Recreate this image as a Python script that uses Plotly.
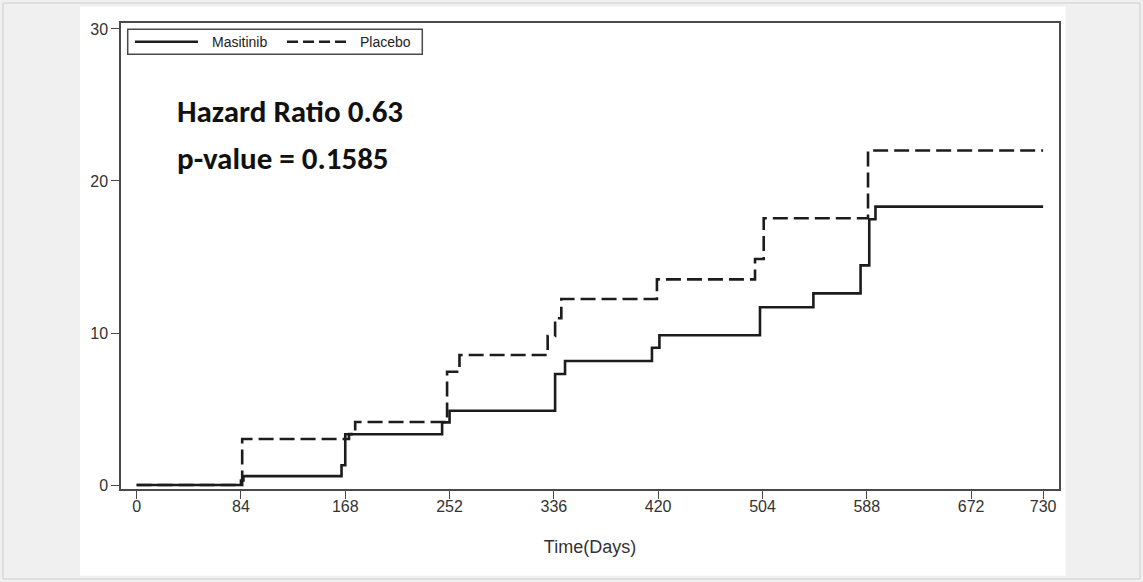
import plotly.graph_objects as go

# ---- data ----
masitinib_days = [0, 84, 86, 165, 168, 246, 252, 337, 345, 415, 421, 502, 545, 583, 590, 595, 730]
masitinib_pct = [0, 0.3, 0.59, 1.3, 3.34, 4.12, 4.89, 7.3, 8.16, 9.03, 9.85, 11.69, 12.61, 14.45, 17.48, 18.31, 18.31]
placebo_days = [0, 85, 171, 176, 250, 260, 331, 337, 342, 419, 498, 505, 589, 730]
placebo_pct = [0, 3.03, 3.35, 4.15, 7.45, 8.55, 9.8, 10.97, 12.24, 13.53, 14.87, 17.55, 22.0, 22.0]
x_ticks = [0, 84, 168, 252, 336, 420, 504, 588, 672, 730]
y_ticks = [0, 10, 20, 30]
series_names = ["Masitinib", "Placebo"]
stat_lines = ["Hazard Ratio 0.63", "p-value = 0.1585"]
x_title = "Time(Days)"

W, H = 1143, 582
L, R, T, B = 121, 1059, 23, 489
PW, PH = R - L, B - T


def px(x):
    return (x - L) / PW


def py(y):
    return (B - y) / PH


LINE = "#1c1c1c"
AXIS = "#4a4a4a"

fig = go.Figure()
fig.add_trace(go.Scatter(x=masitinib_days, y=masitinib_pct, mode="lines", line_shape="hv",
                         name=series_names[0], showlegend=False,
                         line=dict(color=LINE, width=2.6)))
fig.add_trace(go.Scatter(x=placebo_days, y=placebo_pct, mode="lines", line_shape="hv",
                         name=series_names[1], showlegend=False,
                         line=dict(color=LINE, width=2.6, dash="15px,6px")))

shapes = [
    # outer frame of the picture
    dict(type="rect", xref="paper", yref="paper", x0=px(3), x1=px(1140), y0=py(3), y1=py(579),
         line=dict(color="#cdcdcd", width=1), fillcolor="rgba(0,0,0,0)", layer="below"),
    # white panel
    dict(type="rect", xref="paper", yref="paper", x0=px(80), x1=px(1065.5), y0=py(6.7), y1=py(575.7),
         line=dict(width=0), fillcolor="white", layer="below"),
    # legend box
    dict(type="rect", xref="paper", yref="paper", x0=px(127.7), x1=px(422.3), y0=py(29.3), y1=py(54.3),
         line=dict(color=AXIS, width=1.5), fillcolor="white", layer="above"),
    dict(type="line", xref="paper", yref="paper", x0=px(135), x1=px(198), y0=py(41.7), y1=py(41.7),
         line=dict(color=LINE, width=2.6), layer="above"),
    dict(type="line", xref="paper", yref="paper", x0=px(287), x1=px(347), y0=py(41.7), y1=py(41.7),
         line=dict(color=LINE, width=2.6, dash="11px,5px"), layer="above"),
]

legend_font = dict(family="Arial, Liberation Sans", size=14, color="#222")
stat_font = dict(family="Calibri, Lato, sans-serif", size=31, color="#111")

annotations = [
    dict(xref="paper", yref="paper", x=px(210), y=py(41.7), xanchor="left", yanchor="middle",
         text=series_names[0], showarrow=False, font=legend_font),
    dict(xref="paper", yref="paper", x=px(358), y=py(41.7), xanchor="left", yanchor="middle",
         text=series_names[1], showarrow=False, font=legend_font),
    dict(xref="paper", yref="paper", x=px(175), y=py(111), xanchor="left", yanchor="middle",
         text="<b>" + stat_lines[0] + "</b>", showarrow=False, font=stat_font),
    dict(xref="paper", yref="paper", x=px(175), y=py(158), xanchor="left", yanchor="middle",
         text="<b>" + stat_lines[1] + "</b>", showarrow=False, font=stat_font),
]

tickfont = dict(family="Arial, Liberation Sans", size=16, color="#333")

fig.update_layout(
    width=W, height=H,
    margin=dict(l=L, r=W - R, t=T, b=H - B, pad=0),
    paper_bgcolor="#f0f0f0",
    plot_bgcolor="white",
    showlegend=False,
    shapes=shapes,
    annotations=annotations,
    xaxis=dict(range=[-12.6, 742.8], tickvals=x_ticks, ticktext=[str(v) for v in x_ticks],
               showgrid=False, zeroline=False, showline=True, mirror=True,
               linecolor=AXIS, linewidth=1.5, ticks="outside", ticklen=8, tickwidth=1.3,
               tickcolor=AXIS, tickfont=tickfont, ticklabelstandoff=-6,
               title=dict(text=x_title, font=dict(family="Arial, Liberation Sans", size=18, color="#333"),
                          standoff=26)),
    yaxis=dict(range=[-0.26, 30.39], tickvals=y_ticks, ticktext=[str(v) for v in y_ticks],
               showgrid=False, zeroline=False, showline=True, mirror=True,
               linecolor=AXIS, linewidth=1.5, ticks="outside", ticklen=8, tickwidth=1.3,
               tickcolor=AXIS, tickfont=tickfont),
)

fig.write_html("out.html")
